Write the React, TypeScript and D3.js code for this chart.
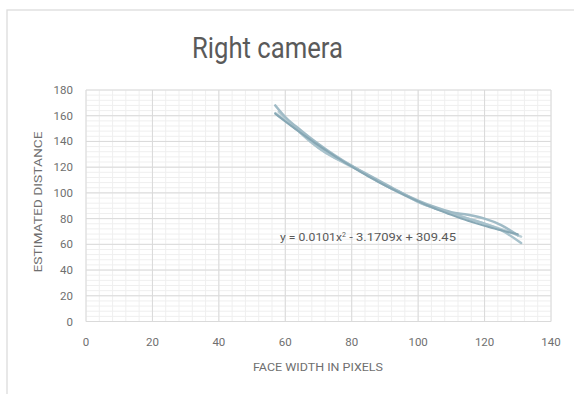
import React from "react";
import * as d3 from "d3";

const W = 574;
const H = 394;

const xTicks = [0, 20, 40, 60, 80, 100, 120, 140];
const yTicks = [0, 20, 40, 60, 80, 100, 120, 140, 160, 180];

const seriesA: [number, number][] = [
  [57, 168], [60, 159], [65, 148], [70, 138], [75, 129], [80, 121], [85, 114], [90, 107],
  [95, 100], [100, 94], [105, 89], [110, 85], [115, 83], [120, 80], [125, 75], [130, 67],
];
const seriesB: [number, number][] = [
  [57, 162], [60, 156], [65, 146], [70, 135], [75, 127], [80, 121], [85, 113], [90, 106],
  [95, 100], [100, 93], [105, 88], [110, 84], [115, 80], [120, 76], [125, 71], [131, 61],
];
const seriesC: [number, number][] = [
  [58, 163], [62, 153], [67, 141], [72, 132], [78, 123], [84, 115], [90, 106], [96, 98],
  [102, 91], [108, 86], [114, 81], [120, 76], [126, 71], [131, 66],
];
const trendCoef = [0.0101, -3.1709, 309.45];
const trendRange = [57, 130];

export default function App() {
  const x = d3.scaleLinear().domain([0, 140]).range([86, 551]);
  const y = d3.scaleLinear().domain([0, 180]).range([321.5, 90]);
  const line = d3
    .line<[number, number]>()
    .x((d) => x(d[0]))
    .y((d) => y(d[1]))
    .curve(d3.curveMonotoneX);

  const trendPts: [number, number][] = d3
    .range(trendRange[0], trendRange[1] + 0.01, 1)
    .map((v) => [v, trendCoef[0] * v * v + trendCoef[1] * v + trendCoef[2]]);

  const minorX = d3.range(0, 140.01, 4);
  const minorY = d3.range(0, 180.01, 4);
  const font = "Roboto, 'Liberation Sans', sans-serif";

  return (
    <svg width={W} height={H} style={{ position: "absolute", left: 0, top: 0, background: "#fff" }}>
      <rect x={7} y={10} width={620} height={420} fill="#fff" stroke="#dcdcdc" strokeWidth={1.3} />
      <text x={267.5} y={58} textAnchor="middle" fontFamily={font} fontSize={29} fill="#5a5a5a"
        textLength={151} lengthAdjust="spacingAndGlyphs">
        Right camera
      </text>
      <g>
        {minorX.map((v) => (
          <line key={"mx" + v} x1={x(v)} x2={x(v)} y1={y(0)} y2={y(180)} stroke="#efefef" strokeWidth={1} />
        ))}
        {minorY.map((v) => (
          <line key={"my" + v} x1={x(0)} x2={x(140)} y1={y(v)} y2={y(v)} stroke="#efefef" strokeWidth={1} />
        ))}
        {xTicks.map((v) => (
          <line key={"gx" + v} x1={x(v)} x2={x(v)} y1={y(0)} y2={y(180)} stroke="#dadada" strokeWidth={1} />
        ))}
        {yTicks.map((v) => (
          <line key={"gy" + v} x1={x(0)} x2={x(140)} y1={y(v)} y2={y(v)} stroke="#dadada" strokeWidth={1} />
        ))}
      </g>
      <g fontFamily={font} fontSize={11.5} fill="#6f6f6f">
        {yTicks.map((v) => (
          <text key={"ty" + v} x={73} y={y(v) + 4} textAnchor="end">
            {v}
          </text>
        ))}
        {xTicks.map((v) => (
          <text key={"tx" + v} x={x(v)} y={345.5} textAnchor="middle">
            {v}
          </text>
        ))}
      </g>
      <text
        transform={`translate(42,202) rotate(-90)`}
        textAnchor="middle"
        fontFamily={font}
        fontSize={11.5}
        fill="#6f6f6f"
        textLength={141}
        lengthAdjust="spacingAndGlyphs"
      >
        ESTIMATED DISTANCE
      </text>
      <text x={318} y={371} textAnchor="middle" fontFamily={font} fontSize={11.5} fill="#6f6f6f"
        textLength={130} lengthAdjust="spacingAndGlyphs">
        FACE WIDTH IN PIXELS
      </text>
      <g fill="none" strokeLinecap="round">
        <path d={line(seriesC) || ""} stroke="#bccfd6" strokeWidth={2.5} />
        <path d={line(seriesB) || ""} stroke="#a8c2cc" strokeWidth={2.5} />
        <path d={line(seriesA) || ""} stroke="#a0bbc6" strokeWidth={2.5} />
        <path d={line(trendPts) || ""} stroke="#86a7b4" strokeWidth={2} />
      </g>
      <text x={280} y={241} fontFamily={font} fontSize={11.5} fill="#595959">
        <tspan textLength={62} lengthAdjust="spacingAndGlyphs">y = 0.0101x</tspan>
        <tspan dy={-4} fontSize={7}>2</tspan>
        <tspan dy={4} textLength={110} lengthAdjust="spacingAndGlyphs"> - 3.1709x + 309.45</tspan>
      </text>
    </svg>
  );
}
